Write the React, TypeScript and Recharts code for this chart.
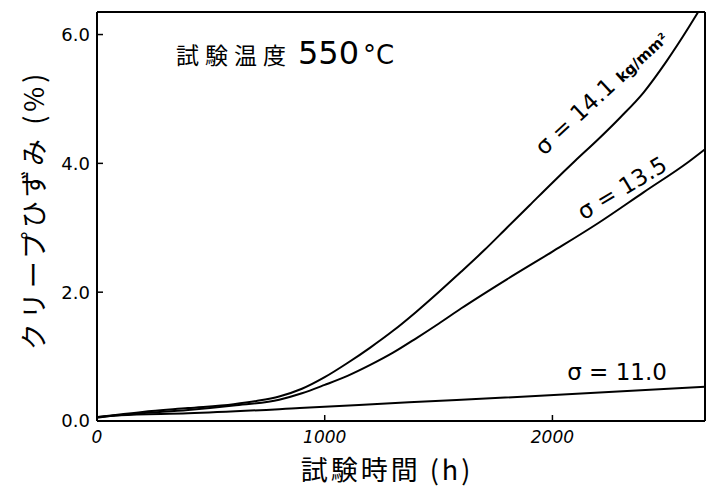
import React from "react"
import { Line, LineChart, ReferenceLine, XAxis, YAxis } from "recharts"

// creep curves at 550°C
const hours141 = [0, 200, 400, 600, 700, 800, 900, 1000, 1100, 1200, 1300, 1400, 1500, 1600, 1700, 1800, 1900, 2000, 2100, 2200, 2300, 2400, 2500, 2600, 2640]
const strain141 = [0.06, 0.14, 0.2, 0.26, 0.31, 0.38, 0.5, 0.68, 0.9, 1.14, 1.4, 1.69, 2.0, 2.32, 2.65, 3.0, 3.35, 3.7, 4.04, 4.37, 4.72, 5.1, 5.58, 6.12, 6.35]

const hours135 = [0, 200, 400, 600, 800, 900, 1000, 1100, 1200, 1300, 1400, 1500, 1600, 1800, 2000, 2200, 2400, 2600, 2670]
const strain135 = [0.06, 0.12, 0.17, 0.24, 0.33, 0.43, 0.56, 0.7, 0.87, 1.06, 1.28, 1.51, 1.75, 2.2, 2.63, 3.07, 3.55, 4.03, 4.22]

const hours110 = [0, 100, 400, 890, 1370, 1770, 2670]
const strain110 = [0.05, 0.09, 0.12, 0.2, 0.29, 0.36, 0.53]

const xTicks = [0, 1000, 2000]
const yTicks = [0, 2, 4, 6]
const xMax = 2670
const yMax = 6.35

const toPoints = (xs: number[], ys: number[]) => xs.map((t, i) => ({ t, v: ys[i] }))

const jp = '"Noto Sans CJK JP", sans-serif'
const num = '"DejaVu Sans", sans-serif'

export default function App() {
  return (
    <div style={{ position: "absolute", left: 0, top: 0, width: 712, height: 495, background: "#fff" }}>
      <LineChart width={712} height={495} margin={{ top: 12, right: 7, bottom: 0, left: 0 }}>
        <XAxis
          type="number"
          dataKey="t"
          domain={[0, xMax]}
          ticks={xTicks}
          height={74}
          axisLine={{ stroke: "#000", strokeWidth: 2 }}
          tickLine={{ stroke: "#000", strokeWidth: 1.5 }}
          tickSize={-6}
          tickMargin={16}
          tick={{ fill: "#000", fontSize: 17, fontStyle: "italic", fontFamily: num }}
        />
        <YAxis
          type="number"
          dataKey="v"
          domain={[0, yMax]}
          ticks={yTicks}
          width={97}
          axisLine={{ stroke: "#000", strokeWidth: 2 }}
          tickLine={{ stroke: "#000", strokeWidth: 1.5 }}
          tickSize={-6}
          tickMargin={13}
          tickFormatter={(v: number) => v.toFixed(1)}
          tick={{ fill: "#000", fontSize: 18, fontFamily: num }}
        />
        <ReferenceLine y={yMax} stroke="#000" strokeWidth={2} />
        <ReferenceLine x={xMax} stroke="#000" strokeWidth={2} />
        <Line data={toPoints(hours110, strain110)} dataKey="v" type="monotone" stroke="#000" strokeWidth={2} dot={false} isAnimationActive={false} />
        <Line data={toPoints(hours135, strain135)} dataKey="v" type="monotone" stroke="#000" strokeWidth={2} dot={false} isAnimationActive={false} />
        <Line data={toPoints(hours141, strain141)} dataKey="v" type="monotone" stroke="#000" strokeWidth={2} dot={false} isAnimationActive={false} />
      </LineChart>

      {/* title */}
      <div style={{ position: "absolute", left: 176, top: 34, whiteSpace: "nowrap", color: "#000" }}>
        <span style={{ fontFamily: jp, fontSize: 23, letterSpacing: 6 }}>試験温度</span>
        <span style={{ fontFamily: num, fontSize: 32, marginLeft: 6 }}>550</span>
        <span style={{ fontFamily: num, fontSize: 26, marginLeft: 4 }}>°C</span>
      </div>

      {/* axis titles */}
      <div
        style={{
          position: "absolute", left: 32, top: 210, whiteSpace: "nowrap", fontFamily: jp, fontSize: 27,
          transform: "translate(-50%, -50%) rotate(-90deg)", letterSpacing: 4, color: "#000",
        }}
      >
        クリープひずみ (%)
      </div>
      <div
        style={{
          position: "absolute", left: 387, top: 468, whiteSpace: "nowrap", fontFamily: jp, fontSize: 27,
          transform: "translate(-50%, -50%)", letterSpacing: 3, color: "#000",
        }}
      >
        試験時間 (h)
      </div>

      {/* curve labels */}
      <div
        style={{
          position: "absolute", left: 601, top: 92, whiteSpace: "nowrap", fontFamily: num, color: "#000",
          transform: "translate(-50%, -50%) rotate(-43deg)",
        }}
      >
        <span style={{ fontSize: 23 }}>σ = 14.1 </span>
        <span style={{ fontSize: 15, fontWeight: "bold" }}>kg/mm²</span>
      </div>
      <div
        style={{
          position: "absolute", left: 622, top: 188, whiteSpace: "nowrap", fontFamily: num, fontSize: 23, color: "#000",
          transform: "translate(-50%, -50%) rotate(-31deg)",
        }}
      >
        σ = 13.5
      </div>
      <div
        style={{
          position: "absolute", left: 617, top: 372, whiteSpace: "nowrap", fontFamily: num, fontSize: 23, color: "#000",
          transform: "translate(-50%, -50%)",
        }}
      >
        σ = 11.0
      </div>
    </div>
  )
}
